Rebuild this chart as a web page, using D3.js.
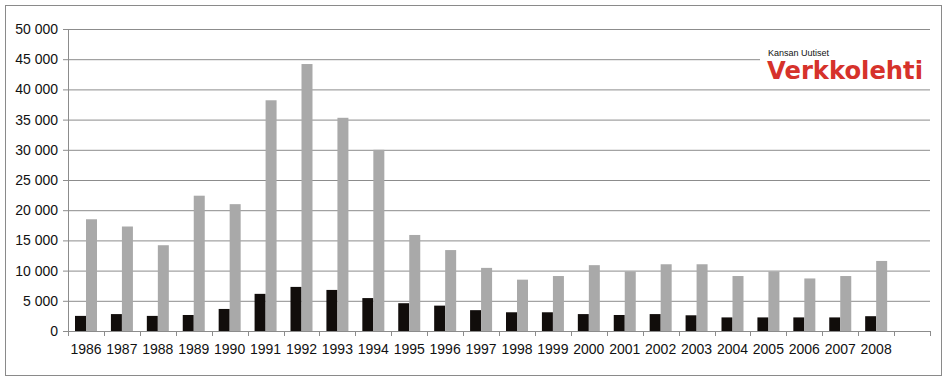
<!DOCTYPE html>
<html>
<head>
<meta charset="utf-8">
<script src="https://cdn.jsdelivr.net/npm/d3@7"></script>
<style>
  body { margin: 0; background: #fff; }
  svg { display: block; font-family: "Liberation Sans", Arial, sans-serif; }
</style>
</head>
<body>
<svg></svg>
<script>
let width = 948;
let height = 383;

let years = ["1986", "1987", "1988", "1989", "1990", "1991", "1992", "1993", "1994", "1995", "1996", "1997",
             "1998", "1999", "2000", "2001", "2002", "2003", "2004", "2005", "2006", "2007", "2008", ""];
let blackValues = [2500, 2800, 2500, 2650, 3650, 6150, 7300, 6800, 5450, 4600, 4200, 3450,
                   3100, 3100, 2800, 2650, 2800, 2600, 2250, 2250, 2250, 2250, 2450];
let greyValues = [18500, 17300, 14200, 22400, 21000, 38200, 44200, 35300, 30000, 15900, 13400, 10450,
                  8500, 9100, 10900, 9850, 11050, 11050, 9100, 9850, 8700, 9100, 11600];
let yTicks = [0, 5000, 10000, 15000, 20000, 25000, 30000, 35000, 40000, 45000, 50000];

let plotLeft = 68, plotRight = 930, plotTop = 29, plotBottom = 331;

let svg = d3.select("svg")
    .attr("width", width)
    .attr("height", height);

// frame
svg.append("rect")
    .attr("x", 5.5)
    .attr("y", 5.5)
    .attr("width", 936)
    .attr("height", 370)
    .attr("fill", "none")
    .attr("stroke", "#8a8a8a");

let xScale = d3.scaleBand()
    .domain(years.map((d, i) => i))
    .range([plotLeft, plotRight]);

let yScale = d3.scaleLinear()
    .domain([0, 50000])
    .range([plotBottom, plotTop]);

let yAxis = d3.axisLeft(yScale)
    .tickValues(yTicks)
    .tickSize(-(plotRight - plotLeft))
    .tickPadding(10)
    .tickFormat(d => d3.format(",")(d).replace(",", " "));

let gy = svg.append("g")
    .attr("transform", "translate(" + plotLeft + ", 0)")
    .call(yAxis);
gy.select(".domain").remove();
gy.selectAll(".tick line")
    .attr("stroke", "#8c8c8c")
    .attr("x1", -5);
gy.selectAll(".tick text")
    .attr("font-size", 14)
    .attr("fill", "#111")
    .attr("font-family", "Liberation Sans, Arial, sans-serif");

svg.append("line")
    .attr("x1", plotLeft + 0.5).attr("x2", plotLeft + 0.5)
    .attr("y1", plotTop).attr("y2", plotBottom)
    .attr("stroke", "#8c8c8c");

// logo box covers grid lines
svg.append("rect")
    .attr("x", 760)
    .attr("y", 42)
    .attr("width", 172)
    .attr("height", 44)
    .attr("fill", "#fff");

svg.append("text")
    .attr("x", 768)
    .attr("y", 56)
    .attr("font-size", 9)
    .attr("fill", "#111")
    .text("Kansan Uutiset");

svg.append("text")
    .attr("x", 767)
    .attr("y", 79)
    .attr("font-size", 24)
    .attr("font-weight", "bold")
    .attr("font-family", "DejaVu Sans, sans-serif")
    .attr("fill", "#d6322b")
    .attr("textLength", 156)
    .attr("lengthAdjust", "spacingAndGlyphs")
    .text("Verkkolehti");

let barW = 11;
let offset = 7;

svg.append("g")
    .selectAll("rect")
    .data(blackValues)
    .enter()
    .append("rect")
    .attr("x", (d, i) => xScale(i) + offset)
    .attr("y", d => yScale(d))
    .attr("width", barW)
    .attr("height", d => plotBottom - yScale(d))
    .attr("fill", "#110d0b");

svg.append("g")
    .selectAll("rect")
    .data(greyValues)
    .enter()
    .append("rect")
    .attr("x", (d, i) => xScale(i) + offset + barW)
    .attr("y", d => yScale(d))
    .attr("width", barW)
    .attr("height", d => plotBottom - yScale(d))
    .attr("fill", "#a9a9a9");

let xAxis = d3.axisBottom(xScale)
    .tickSize(0)
    .tickPadding(13)
    .tickFormat(i => years[i]);

let gx = svg.append("g")
    .attr("transform", "translate(0, " + plotBottom + ")")
    .call(xAxis);
gx.select(".domain")
    .attr("stroke", "#8c8c8c")
    .attr("d", "M" + plotLeft + ",0.5H" + plotRight);
gx.selectAll(".tick text")
    .attr("font-size", 14)
    .attr("fill", "#111")
    .attr("font-family", "Liberation Sans, Arial, sans-serif");

// category separators
svg.append("g")
    .selectAll("line")
    .data(years.map((d, i) => i).concat([years.length]))
    .enter()
    .append("line")
    .attr("x1", i => Math.round(plotLeft + i * xScale.step()) + 0.5)
    .attr("x2", i => Math.round(plotLeft + i * xScale.step()) + 0.5)
    .attr("y1", plotBottom)
    .attr("y2", plotBottom + 5)
    .attr("stroke", "#8c8c8c");
</script>
</body>
</html>
